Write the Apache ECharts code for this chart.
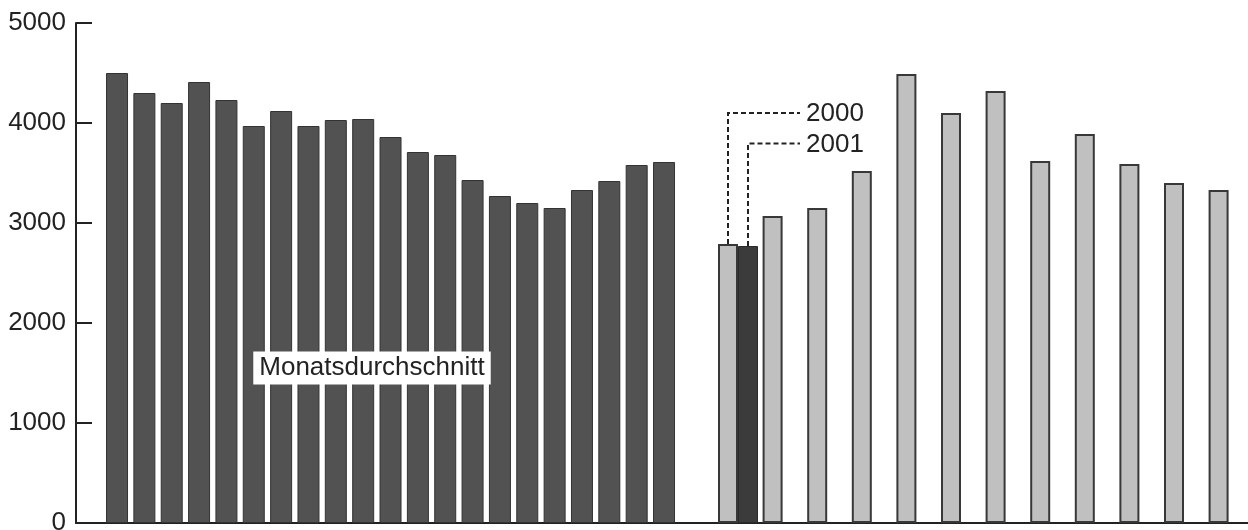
<!DOCTYPE html>
<html>
<head>
<meta charset="utf-8">
<script src="https://cdn.jsdelivr.net/npm/echarts@6/dist/echarts.min.js"></script>
<style>
  html, body { margin: 0; padding: 0; background: #fff; }
  #chart { width: 1248px; height: 530px; }
</style>
</head>
<body>
<div id="chart"></div>
<script>
// Monthly averages (dark bars), one leading empty slot
const avgCategories = ['', 'P1', 'P2', 'P3', 'P4', 'P5', 'P6', 'P7', 'P8', 'P9', 'P10', 'P11',
  'P12', 'P13', 'P14', 'P15', 'P16', 'P17', 'P18', 'P19', 'P20', 'P21'];
const avgValues = [null, 4500, 4300, 4200, 4410, 4230, 3970, 4120, 3970, 4030, 4040, 3860,
  3710, 3680, 3430, 3270, 3200, 3150, 3330, 3420, 3580, 3610];

// Months of 2000 and 2001, one leading empty slot
const monthCategories = ['', 'Jan', 'Feb', 'Mär', 'Apr', 'Mai', 'Jun', 'Jul', 'Aug', 'Sep', 'Okt', 'Nov', 'Dez'];
const values2000 = [null, 2790, 3070, 3150, 3520, 4490, 4100, 4320, 3620, 3890, 3590, 3400, 3330];
const values2001 = [null, 2770, null, null, null, null, null, null, null, null, null, null, null];

const yTicks = { min: 0, max: 5000, interval: 1000 };
const avgLabel = 'Monatsdurchschnitt';
const seriesNames = ['2000', '2001'];

const FONT = 'Liberation Sans, Arial, sans-serif';
const INK = '#222';

const chart = echarts.init(document.getElementById('chart'), null, { renderer: 'canvas' });

const xAxisCommon = {
  type: 'category',
  axisTick: { show: false },
  axisLabel: { show: false },
  axisLine: { show: true, lineStyle: { color: INK, width: 2 } },
  splitLine: { show: false }
};

chart.setOption({
  animation: false,
  backgroundColor: '#fff',
  grid: [
    { left: 76, top: 23, height: 500, width: 601.7, containLabel: false, outerBoundsMode: 'none' },
    { left: 671.1, top: 23, height: 500, width: 579.8, containLabel: false, outerBoundsMode: 'none' }
  ],
  xAxis: [
    Object.assign({ gridIndex: 0, data: avgCategories }, xAxisCommon),
    Object.assign({ gridIndex: 1, data: monthCategories }, xAxisCommon)
  ],
  yAxis: [
    {
      gridIndex: 0, type: 'value', min: yTicks.min, max: yTicks.max, interval: yTicks.interval,
      axisLine: { show: true, lineStyle: { color: INK, width: 2 } },
      axisTick: { show: true, inside: true, length: 16, lineStyle: { color: INK, width: 2 } },
      axisLabel: { fontSize: 26, fontFamily: FONT, color: INK, margin: 10, formatter: v => String(v) },
      splitLine: { show: false }
    },
    {
      gridIndex: 1, type: 'value', min: yTicks.min, max: yTicks.max, interval: yTicks.interval,
      show: false, splitLine: { show: false }
    }
  ],
  series: [
    {
      type: 'bar', name: avgLabel, xAxisIndex: 0, yAxisIndex: 0,
      data: avgValues, barWidth: 22,
      itemStyle: { color: '#525252', borderColor: '#333', borderWidth: 1 }
    },
    {
      type: 'bar', name: seriesNames[0], xAxisIndex: 1, yAxisIndex: 1,
      data: values2000, barWidth: 20, barGap: '0%',
      itemStyle: { color: '#c0c0c0', borderColor: '#383838', borderWidth: 2 }
    },
    {
      type: 'bar', name: seriesNames[1], xAxisIndex: 1, yAxisIndex: 1,
      data: values2001, barWidth: 20, barGap: '0%',
      itemStyle: { color: '#3b3b3b', borderColor: '#2a2a2a', borderWidth: 1 }
    }
  ]
});

// Annotations (leader lines to the January bars, labels)
const janX = chart.convertToPixel({ xAxisIndex: 1 }, 'Jan');
const x2000 = janX - 10;
const x2001 = janX + 10;
const yTop2000 = chart.convertToPixel({ yAxisIndex: 1 }, values2000[1]);
const yTop2001 = chart.convertToPixel({ yAxisIndex: 1 }, values2001[1]);
const yLine2000 = 113;
const yLine2001 = 143.5;
const xLineEnd = 800;
const dashStyle = { stroke: INK, lineWidth: 2, lineDash: [5, 3], fill: null };

chart.setOption({
  graphic: [
    { type: 'polyline', shape: { points: [[x2000, yTop2000], [x2000, yLine2000], [xLineEnd, yLine2000]] }, style: dashStyle, z: 10 },
    { type: 'polyline', shape: { points: [[x2001, yTop2001], [x2001, yLine2001], [xLineEnd, yLine2001]] }, style: dashStyle, z: 10 },
    { type: 'text', x: 806, y: yLine2000 + 1, style: { text: seriesNames[0], font: '26px ' + FONT, fill: INK, textAlign: 'left', textVerticalAlign: 'middle' }, z: 10 },
    { type: 'text', x: 806, y: yLine2001 + 1, style: { text: seriesNames[1], font: '26px ' + FONT, fill: INK, textAlign: 'left', textVerticalAlign: 'middle' }, z: 10 },
    { type: 'text', x: 372, y: 368, style: { text: avgLabel, font: '26px ' + FONT, fill: INK, textAlign: 'center', textVerticalAlign: 'middle', backgroundColor: '#fff', padding: [4, 6, 3, 6] }, z: 10 }
  ]
});
</script>
</body>
</html>
